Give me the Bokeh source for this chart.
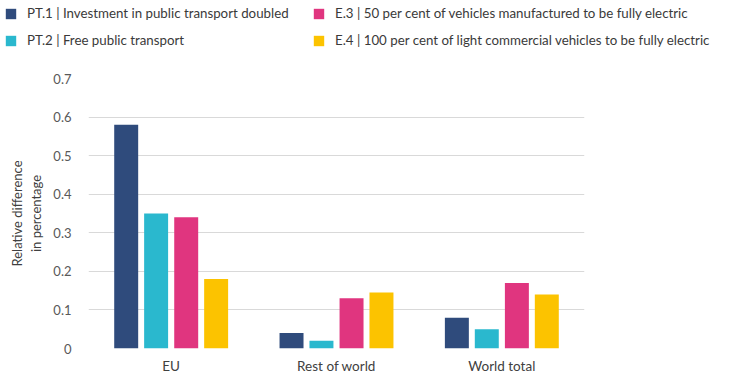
from bokeh.plotting import figure
from bokeh.layouts import column
from bokeh.models import FactorRange, Range1d, Legend, LegendItem, ColumnDataSource, FixedTicker
from bokeh.transform import dodge
from bokeh.embed import file_html
from bokeh.resources import INLINE

regions = ["EU", "Rest of world", "World total"]
series_names = [
    "PT.1 | Investment in public transport doubled",
    "PT.2 | Free public transport",
    "E.3 | 50 per cent of vehicles manufactured to be fully electric",
    "E.4 | 100 per cent of light commercial vehicles to be fully electric",
]
pt1 = [0.58, 0.04, 0.08]
pt2 = [0.35, 0.02, 0.05]
e3 = [0.34, 0.13, 0.17]
e4 = [0.18, 0.145, 0.14]
y_ticks = [0, 0.1, 0.2, 0.3, 0.4, 0.5, 0.6, 0.7]
y_label = "Relative difference\nin percentage"

colors = ["#2F4B7C", "#2AB8CE", "#E0357F", "#FCC300"]
FONT = "Lato"
keys = ["pt1", "pt2", "e3", "e4"]
offsets = [-0.272, -0.091, 0.091, 0.272]

source = ColumnDataSource(data=dict(region=regions, pt1=pt1, pt2=pt2, e3=e3, e4=e4))

# ---------------- main chart ----------------
p = figure(
    x_range=FactorRange(*regions),
    y_range=Range1d(0, 0.7),
    frame_width=496, frame_height=270,
    min_border_left=60, min_border_right=120, min_border_top=26, min_border_bottom=22,
    output_backend="svg", toolbar_location=None,
)
p.frame_align = False
p.margin = (0, 0, 0, 6)

for k, off, c in zip(keys, offsets, colors):
    p.vbar(x=dodge("region", off, range=p.x_range), top=k, width=0.145,
           source=source, fill_color=c, line_color=None)

p.outline_line_color = None
p.xgrid.grid_line_color = None
p.ygrid.grid_line_color = "#D9D9D9"
p.ygrid.grid_line_width = 1
p.ygrid.ticker = FixedTicker(ticks=y_ticks)

p.yaxis.ticker = FixedTicker(ticks=y_ticks)
p.yaxis.major_label_overrides = {0: "0"}
p.yaxis.axis_line_color = None
p.yaxis.major_tick_line_color = None
p.yaxis.minor_tick_line_color = None
p.yaxis.major_label_text_font = FONT
p.yaxis.major_label_text_font_size = "13px"
p.yaxis.major_label_text_color = "#595959"
p.yaxis.major_label_standoff = 11
p.yaxis.axis_label = y_label
p.yaxis.axis_label_text_font = FONT
p.yaxis.axis_label_text_font_size = "13px"
p.yaxis.axis_label_text_font_style = "normal"
p.yaxis.axis_label_text_color = "#404040"
p.yaxis.axis_label_standoff = 6

p.xaxis.axis_line_color = None
p.xaxis.major_tick_line_color = None
p.xaxis.major_label_text_font = FONT
p.xaxis.major_label_text_font_size = "13.5px"
p.xaxis.major_label_text_color = "#404040"
p.xaxis.major_label_standoff = 3

# ---------------- legend strip ----------------
lg = figure(
    x_range=FactorRange(*regions), y_range=Range1d(10, 11),
    width=722, height=52, min_border=0,
    x_axis_location=None, y_axis_location=None,
    output_backend="svg", toolbar_location=None,
)
lg.frame_align = False
lg.outline_line_color = None
lg.grid.grid_line_color = None
lrs = []
for k, off, c in zip(keys, offsets, colors):
    r = lg.vbar(x=dodge("region", off, range=lg.x_range), top=k, width=0.145,
                source=source, fill_color=c, line_color=None)
    lrs.append(r)

def make_legend(items, loc):
    return Legend(items=items, location=loc, orientation="vertical",
                  glyph_width=13, glyph_height=13, label_standoff=10,
                  label_text_font=FONT, label_text_font_size="13.3px",
                  label_text_color="#3A3A3A", label_height=20, spacing=7,
                  padding=0, margin=0, border_line_alpha=0, background_fill_alpha=0)

leg1 = make_legend([LegendItem(label=series_names[0], renderers=[lrs[0]]),
                    LegendItem(label=series_names[1], renderers=[lrs[1]])], (4, 2))
leg2 = make_legend([LegendItem(label=series_names[2], renderers=[lrs[2]]),
                    LegendItem(label=series_names[3], renderers=[lrs[3]])], (312, 2))
lg.add_layout(leg1, "center")
lg.add_layout(leg2, "center")

layout = column(lg, p, spacing=0)
open("out.html", "w").write(file_html(layout, INLINE))
